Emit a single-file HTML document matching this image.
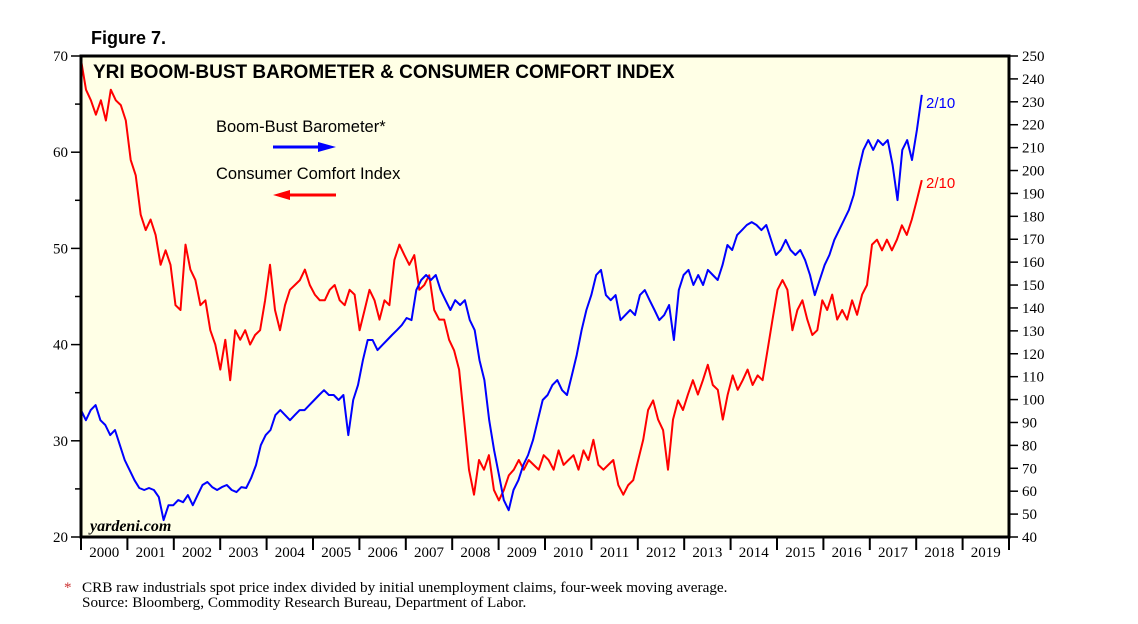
<!DOCTYPE html>
<html><head><meta charset="utf-8"><style>
body{margin:0;background:#fff;width:1138px;height:624px;overflow:hidden}
svg{display:block}
.sf{font-family:"Liberation Serif",serif}
.ss{font-family:"Liberation Sans",sans-serif}
</style></head><body>
<svg id="chart" width="1138" height="624">
<text x="91" y="44" class="ss" font-size="18" font-weight="bold">Figure 7.</text>
<rect x="81" y="56" width="928" height="481" fill="#FFFFE6"/>
<g id="grid"></g>
<g id="series"></g>
<rect x="81" y="56" width="928" height="481" fill="none" stroke="#000" stroke-width="3"/>
<text x="93" y="78" class="ss" font-size="19" font-weight="bold">YRI BOOM-BUST BAROMETER &amp; CONSUMER COMFORT INDEX</text>
<text x="216" y="132" class="ss" font-size="16.5">Boom-Bust Barometer*</text>
<g><line x1="273" y1="147" x2="322" y2="147" stroke="#0000ff" stroke-width="3"/><polygon points="318,142 336,147 318,152" fill="#0000ff"/></g>
<text x="216" y="179" class="ss" font-size="16.5">Consumer Comfort Index</text>
<g><line x1="286" y1="195" x2="336" y2="195" stroke="#ff0000" stroke-width="3"/><polygon points="290,190 273,195 290,200" fill="#ff0000"/></g>
<text x="926" y="108" class="ss" font-size="15" fill="#0000ff">2/10</text>
<text x="926" y="188" class="ss" font-size="15" fill="#ff0000">2/10</text>
<text x="90" y="531" class="sf" font-size="16" font-style="italic" font-weight="bold">yardeni.com</text>
<text x="64" y="592" class="sf" font-size="15" fill="#c33">*</text>
<text x="82" y="592" class="sf" font-size="15.2">CRB raw industrials spot price index divided by initial unemployment claims, four-week moving average.</text>
<text x="82" y="607" class="sf" font-size="15.2">Source: Bloomberg, Commodity Research Bureau, Department of Labor.</text>
</svg>
<script>
const years=["2000","2001","2002","2003","2004","2005","2006","2007","2008","2009","2010","2011","2012","2013","2014","2015","2016","2017","2018","2019"];
const leftTicks=[20,30,40,50,60,70];
const rightTicks=[40,50,60,70,80,90,100,110,120,130,140,150,160,170,180,190,200,210,220,230,240,250];
const seriesStart=2000.0;
const seriesEnd=2018.12;
const cciValues=[69.6,66.5,65.4,63.9,65.4,63.3,66.5,65.4,64.9,63.3,59.2,57.6,53.5,51.9,53.0,51.4,48.3,49.8,48.3,44.1,43.6,50.4,47.8,46.7,44.1,44.6,41.5,40.0,37.4,40.5,36.3,41.5,40.5,41.5,40.0,41.0,41.5,44.6,48.3,43.6,41.5,44.1,45.7,46.2,46.7,47.8,46.2,45.2,44.6,44.6,45.7,46.2,44.6,44.1,45.7,45.2,41.5,43.6,45.7,44.6,42.6,44.6,44.1,48.8,50.4,49.3,48.3,49.3,45.7,46.2,47.2,43.6,42.6,42.6,40.5,39.4,37.4,32.2,27.0,24.4,28.0,27.0,28.5,24.9,23.8,24.9,26.4,27.0,28.0,27.0,28.0,27.5,27.0,28.5,28.0,27.0,29.0,27.5,28.0,28.5,27.0,29.0,28.0,30.1,27.5,27.0,27.5,28.0,25.4,24.4,25.4,25.9,28.0,30.1,33.2,34.2,32.2,31.1,27.0,32.2,34.2,33.2,34.8,36.3,34.8,36.3,37.9,35.8,35.3,32.2,34.8,36.8,35.3,36.3,37.4,35.8,36.8,36.3,39.4,42.6,45.7,46.7,45.7,41.5,43.6,44.6,42.6,41.0,41.5,44.6,43.6,45.2,42.6,43.6,42.6,44.6,43.1,45.2,46.2,50.4,50.9,49.8,50.9,49.8,50.9,52.4,51.4,53.0,55.0,57.1];
const bbbValues=[95.4,91.0,95.4,97.6,91.0,88.9,84.5,86.7,80.1,73.6,69.2,64.8,61.4,60.5,61.4,60.5,57.4,47.4,53.9,53.9,56.1,55.2,58.3,53.9,58.3,62.7,64.0,61.8,60.5,61.8,62.7,60.5,59.6,61.8,61.4,65.7,71.4,80.1,84.5,86.7,93.2,95.4,93.2,91.0,93.2,95.4,95.4,97.6,99.8,102.0,104.1,102.0,102.0,99.8,102.0,84.5,99.8,106.3,117.2,126.0,126.0,121.6,123.8,126.0,128.2,130.3,132.5,135.6,134.7,147.8,152.2,154.4,152.2,154.4,147.8,143.4,139.1,143.4,141.3,143.4,134.7,130.3,117.2,108.5,91.0,77.9,67.0,56.1,51.7,60.5,64.8,71.4,75.8,82.3,91.0,99.8,102.0,106.3,108.5,104.1,102.0,110.7,119.4,130.3,139.1,145.6,154.4,156.6,145.6,143.4,145.6,134.7,136.9,139.1,136.9,145.6,147.8,143.4,139.1,134.7,136.9,141.3,126.0,147.8,154.4,156.6,150.0,154.4,150.0,156.6,154.4,152.2,158.7,167.5,165.3,171.8,174.0,176.2,177.5,176.2,174.0,176.2,169.7,163.1,165.3,169.7,165.3,163.1,165.3,160.9,154.4,145.6,152.2,158.7,163.1,169.7,174.0,178.4,182.8,189.3,200.2,209.0,213.3,209.0,213.3,211.1,213.3,202.4,187.1,209.0,213.3,204.6,217.7,233.0];

const NS='http://www.w3.org/2000/svg';
const L=81,R=1009,T=56,B=537;
const xScale=t=>L+(t-2000)/20*(R-L);
const yLeft=v=>B-(v-20)/50*(B-T);
const yRight=v=>B-(v-40)/210*(B-T);
const grid=document.getElementById('grid');
const series=document.getElementById('series');
function mk(tag,attrs,parent){const e=document.createElementNS(NS,tag);for(const k in attrs)e.setAttribute(k,attrs[k]);parent.appendChild(e);return e;}

leftTicks.forEach((v,i)=>{
  const y=yLeft(v);
  const tk=mk('line',{x1:L-10,x2:L,y1:y,y2:y,stroke:'#000','stroke-width':1.5},grid);
  
  
  const lb=mk('text',{x:L-13,y:y+5,'text-anchor':'end','font-size':15,'class':'sf'},grid);
  lb.textContent=v;
  
  
  if(i<leftTicks.length-1){
    const ym=yLeft(v+5);
    const m=mk('line',{x1:L-6,x2:L,y1:ym,y2:ym,stroke:'#000','stroke-width':1.5},grid);
    
    
  }
});
rightTicks.forEach(v=>{
  const y=yRight(v);
  const tk=mk('line',{x1:R,x2:R+9,y1:y,y2:y,stroke:'#000','stroke-width':1.5},grid);
  
  
  const lb=mk('text',{x:R+13,y:y+5,'font-size':15,'class':'sf'},grid);
  lb.textContent=v;
  
  
});
years.forEach((yr,i)=>{
  const x=xScale(2000+i);
  const tk=mk('line',{x1:x,x2:x,y1:B,y2:B+13,stroke:'#000','stroke-width':2},grid);
  
  
  const lb=mk('text',{x:xScale(2000.5+i),y:B+20,'text-anchor':'middle','font-size':15,'class':'sf'},grid);
  lb.textContent=yr;
  
  
});
const endTick=mk('line',{x1:R,x2:R,y1:B,y2:B+13,stroke:'#000','stroke-width':2},grid);



function pathFor(vals,ys){
  const n=vals.length;
  return vals.map((v,i)=>{const t=seriesStart+(seriesEnd-seriesStart)*i/(n-1);return (i?'L':'M')+xScale(t).toFixed(1)+','+ys(v).toFixed(1);}).join('');
}
const cci=mk('path',{d:pathFor(cciValues,yLeft),fill:'none',stroke:'#ff0000','stroke-width':2,'stroke-linejoin':'round'},series);


const bbb=mk('path',{d:pathFor(bbbValues,yRight),fill:'none',stroke:'#0000ff','stroke-width':2,'stroke-linejoin':'round'},series);


</script>
</body></html>
